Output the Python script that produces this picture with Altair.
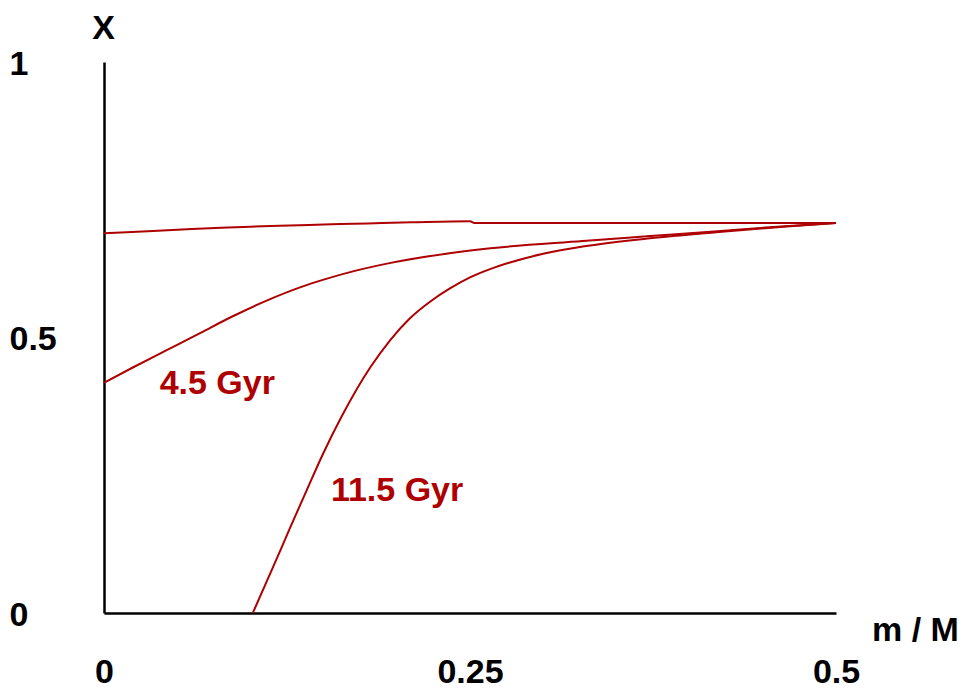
import altair as alt
import pandas as pd

# ---- data ----
m_initial = [0.0, 0.03, 0.06, 0.09, 0.12, 0.15, 0.18, 0.21, 0.25, 0.253, 0.3, 0.4, 0.5]
x_initial = [0.689, 0.693, 0.697, 0.700, 0.703, 0.705, 0.707, 0.709, 0.711, 0.708, 0.708, 0.708, 0.708]

m_45 = [0.0, 0.020, 0.0428, 0.0656, 0.0883, 0.1111, 0.1339, 0.150, 0.170, 0.195, 0.236,
        0.264, 0.327, 0.373, 0.419, 0.46, 0.5]
x_45 = [0.418, 0.446, 0.477, 0.508, 0.539, 0.567, 0.591, 0.605, 0.620, 0.635, 0.653,
        0.662, 0.675, 0.684, 0.693, 0.701, 0.708]

m_115 = [0.1016, 0.1156, 0.1270, 0.1385, 0.1498, 0.1624, 0.1817, 0.1954, 0.209,
         0.2227, 0.2363, 0.25, 0.2637, 0.2773, 0.30, 0.327, 0.373, 0.418, 0.464, 0.5]
x_115 = [0.0, 0.084, 0.154, 0.223, 0.290, 0.357, 0.445, 0.495, 0.535,
         0.565, 0.589, 0.609, 0.624, 0.636, 0.652, 0.665, 0.680, 0.691, 0.701, 0.708]

label_text = ["4.5 Gyr", "11.5 Gyr"]
label_m = [0.038, 0.155]
label_x = [0.416, 0.222]

x_ticks = [0, 0.25, 0.5]
y_ticks = [0, 0.5, 1]

RED = "#AE0000"
FONT = "Liberation Sans"
FS = 34

rows = []
for name, ms, xs in [("initial", m_initial, x_initial),
                     ("4.5 Gyr", m_45, x_45),
                     ("11.5 Gyr", m_115, x_115)]:
    for m, x in zip(ms, xs):
        rows.append({"curve": name, "m": m, "X": x})
df = pd.DataFrame(rows)
labels = pd.DataFrame({"text": label_text, "m": label_m, "X": label_x})

xscale = alt.Scale(domain=[0, 0.5], nice=False, zero=False)
yscale = alt.Scale(domain=[0, 1], nice=False, zero=False)

lines = alt.Chart(df).mark_line(color=RED, strokeWidth=2, interpolate="monotone").encode(
    x=alt.X("m:Q", scale=xscale,
            axis=alt.Axis(values=x_ticks, format="~g", title="m / M",
                          titleAngle=0, titleX=811, titleY=17,
                          titleAlign="center", titleBaseline="middle",
                          labelPadding=59, labelBaseline="middle",
                          labelAlign="center", labelFlush=False)),
    y=alt.Y("X:Q", scale=yscale,
            axis=alt.Axis(values=y_ticks, format="~g", title="X",
                          titleAngle=0, titleX=-1, titleY=-34,
                          titleAlign="center", titleBaseline="middle",
                          labelPadding=95, labelAlign="left",
                          labelBaseline="middle", labelOffset=2,
                          labelFlush=False)),
    detail="curve:N",
)

texts = alt.Chart(labels).mark_text(
    color=RED, font=FONT, fontWeight="bold", fontSize=FS,
    align="left", baseline="middle",
).encode(
    x=alt.X("m:Q", scale=xscale),
    y=alt.Y("X:Q", scale=yscale),
    text="text:N",
)

chart = alt.layer(lines, texts).properties(
    width=732, height=551,
    autosize="none",
    padding={"left": 104, "top": 62, "right": 125, "bottom": 75},
    background="white",
).configure_view(stroke=None).configure_axis(
    grid=False, ticks=False, tickSize=0,
    domainColor="black", domainWidth=2.5,
    labelFont=FONT, labelFontWeight="bold", labelFontSize=FS, labelColor="black",
    titleFont=FONT, titleFontWeight="bold", titleFontSize=FS, titleColor="black",
)

chart.save("out.html", embed_options={"renderer": "svg", "actions": False})
